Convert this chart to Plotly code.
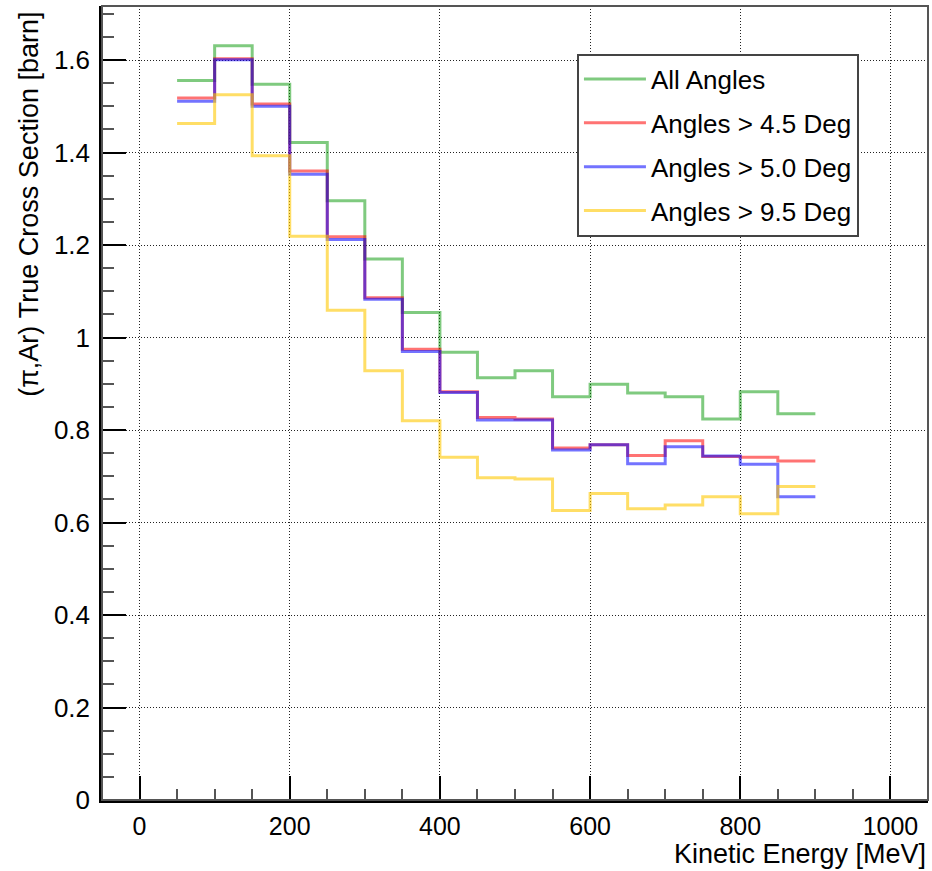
import plotly.graph_objects as go

# Kinetic-energy bin edges [MeV] (50 MeV bins from 50 to 900)
bin_edges = [50, 100, 150, 200, 250, 300, 350, 400, 450, 500, 550,
             600, 650, 700, 750, 800, 850, 900]

# True (pi, Ar) cross section per bin [barn]
xs_all = [1.556, 1.631, 1.548, 1.422, 1.296, 1.170, 1.054, 0.968, 0.913,
          0.928, 0.872, 0.899, 0.880, 0.872, 0.824, 0.883, 0.835]
xs_gt45 = [1.518, 1.603, 1.505, 1.360, 1.218, 1.086, 0.975, 0.883, 0.827,
           0.824, 0.761, 0.768, 0.745, 0.777, 0.743, 0.741, 0.733]
xs_gt50 = [1.511, 1.601, 1.500, 1.353, 1.212, 1.083, 0.970, 0.881, 0.822,
           0.822, 0.757, 0.768, 0.727, 0.764, 0.744, 0.726, 0.656]
xs_gt95 = [1.463, 1.525, 1.393, 1.219, 1.059, 0.928, 0.820, 0.741, 0.697,
           0.694, 0.626, 0.663, 0.630, 0.638, 0.656, 0.619, 0.678]

series_names = ["All Angles", "Angles > 4.5 Deg", "Angles > 5.0 Deg",
                "Angles > 9.5 Deg"]
series_values = [xs_all, xs_gt45, xs_gt50, xs_gt95]
series_colors = ["rgba(0,150,0,0.5)", "rgba(255,0,0,0.55)",
                 "rgba(0,0,255,0.55)", "rgba(255,200,0,0.6)"]

x_ticks = [0, 200, 400, 600, 800, 1000]
y_ticks = [0, 0.2, 0.4, 0.6, 0.8, 1.0, 1.2, 1.4, 1.6]

FONT = "Liberation Sans, Arial, Helvetica, sans-serif"

fig = go.Figure()
for i, (name, vals, col) in enumerate(zip(series_names, series_values,
                                          series_colors)):
    # step histogram: each value holds across its bin, last value closes at 900
    fig.add_trace(go.Scatter(
        x=bin_edges,
        y=vals + [vals[-1]],
        mode="lines",
        line=dict(shape="hv", color=col, width=3),
        name=name,
        legendgroup=f"g{i}",
    ))

fig.update_layout(
    width=932, height=871,
    margin=dict(l=102, r=4, t=6, b=71),
    paper_bgcolor="white", plot_bgcolor="white",
    font=dict(family=FONT, color="black"),
    showlegend=True,
    legend=dict(
        x=0.575, y=0.94, xanchor="left", yanchor="top",
        bgcolor="white", bordercolor="#444", borderwidth=2,
        font=dict(size=26, family=FONT, color="black"),
        tracegroupgap=7, itemwidth=62,
    ),
    shapes=[dict(type="rect", xref="paper", yref="paper", x0=0, x1=1,
                 y0=0, y1=1, line=dict(color="#555", width=2),
                 layer="above")],
    annotations=[
        dict(text="Kinetic Energy [MeV]", xref="paper", yref="paper",
             x=1.0, y=-0.0675, xanchor="right", yanchor="middle",
             showarrow=False, font=dict(size=27, family=FONT)),
        dict(text="(\u03c0,Ar) True Cross Section [barn]", xref="paper",
             yref="paper", x=-0.088, y=0.995, xanchor="center",
             yanchor="top", textangle=-90, showarrow=False,
             font=dict(size=27, family=FONT)),
    ],
)

fig.update_xaxes(
    range=[-50, 1050], tickvals=x_ticks, ticktext=[str(v) for v in x_ticks],
    showgrid=True, gridcolor="#222", gridwidth=1, griddash="1px,2px",
    zeroline=False, showline=True, linecolor="black", linewidth=2.5,
    ticks="inside", ticklen=24, tickwidth=1.5, tickcolor="black",
    minor=dict(dtick=50, tick0=0, ticks="inside", ticklen=11,
               tickcolor="#555", tickwidth=1.5, showgrid=False),
    tickfont=dict(size=25, family=FONT), ticklabelstandoff=2,
)
fig.update_yaxes(
    range=[0, 1.717], tickvals=y_ticks,
    ticktext=["0", "0.2", "0.4", "0.6", "0.8", "1", "1.2", "1.4", "1.6"],
    showgrid=True, gridcolor="#222", gridwidth=1, griddash="1px,2px",
    zeroline=False, showline=True, linecolor="black", linewidth=2.5,
    ticks="inside", ticklen=24, tickwidth=1.5, tickcolor="black",
    minor=dict(dtick=0.05, tick0=0, ticks="inside", ticklen=12,
               tickcolor="#555", tickwidth=1.5, showgrid=False),
    tickfont=dict(size=26, family=FONT), ticklabelstandoff=4,
)

fig.write_html("out.html")
